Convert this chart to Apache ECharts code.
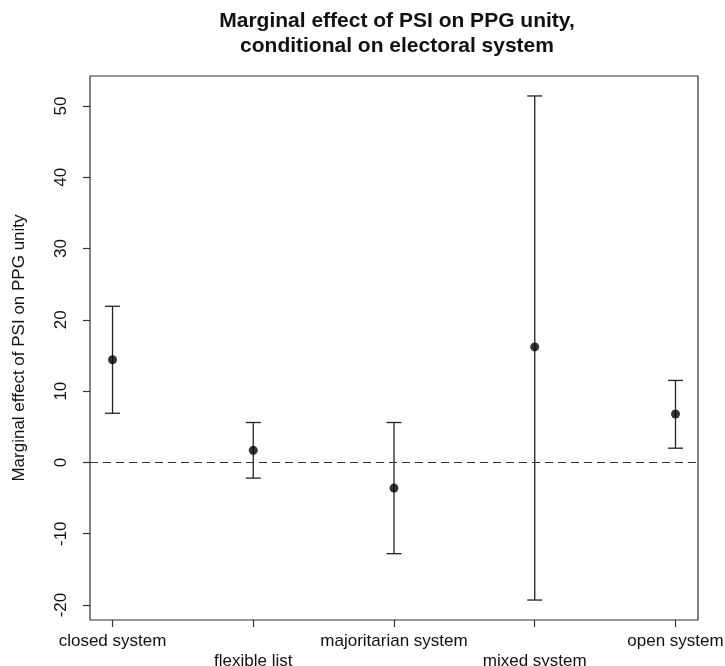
<!DOCTYPE html>
<html>
<head>
<meta charset="utf-8">
<script src="https://cdn.jsdelivr.net/npm/echarts@6/dist/echarts.min.js"></script>
<style>
  html, body { margin: 0; padding: 0; background: #fff; }
  #main { width: 725px; height: 666px; }
</style>
</head>
<body>
<div id="main"></div>
<script>
// electoral systems and the marginal effect estimates with their CI bounds
const systems = ["closed system", "flexible list", "majoritarian system", "mixed system", "open system"];
const estimate = [14.4, 1.7, -3.6, 16.2, 6.8];
const lower = [6.9, -2.2, -12.8, -19.3, 2.0];
const upper = [21.9, 5.6, 5.6, 51.4, 11.5];
const xTicks = [1, 2, 3, 4, 5];
const yTicks = [-20, -10, 0, 10, 20, 30, 40, 50];

const font = "Liberation Sans, Arial, sans-serif";
const ink = "#222";

const barData = systems.map((s, i) => [i + 1, lower[i], upper[i]]);
const pointData = systems.map((s, i) => [i + 1, estimate[i]]);

const myChart = echarts.init(document.getElementById("main"));
const option = {
  backgroundColor: "#fff",
  animation: false,
  title: {
    text: "Marginal effect of PSI on PPG unity,\nconditional on electoral system",
    left: 392,
    textAlign: "center",
    top: 4,
    textStyle: {
      fontFamily: font,
      fontSize: 21,
      fontWeight: "bold",
      color: "#111",
      lineHeight: 25
    }
  },
  grid: {
    left: 90,
    right: 27,
    top: 76,
    bottom: 46,
    outerBoundsMode: "none",
    containLabel: false,
    show: true,
    borderColor: "#333",
    borderWidth: 1.2,
    backgroundColor: "transparent"
  },
  xAxis: {
    type: "value",
    min: 0.84,
    max: 5.16,
    splitLine: { show: false },
    axisLine: { show: false, onZero: false },
    axisTick: {
      show: true,
      length: 7,
      customValues: xTicks,
      lineStyle: { color: "#333", width: 1.2 }
    },
    axisLabel: {
      customValues: xTicks,
      margin: 11,
      fontFamily: font,
      fontSize: 17,
      color: "#111",
      lineHeight: 20,
      formatter: function (v) {
        const i = Math.round(v) - 1;
        return i % 2 === 1 ? "\n" + systems[i] : systems[i];
      }
    }
  },
  yAxis: {
    type: "value",
    min: -22.1,
    max: 54.2,
    name: "Marginal effect of PSI on PPG unity",
    nameLocation: "middle",
    nameRotate: 90,
    nameGap: 62,
    nameTextStyle: { fontFamily: font, fontSize: 17, color: "#111" },
    splitLine: { show: false },
    axisLine: { show: false, onZero: false },
    axisTick: {
      show: true,
      length: 7,
      customValues: yTicks,
      lineStyle: { color: "#333", width: 1.2 }
    },
    axisLabel: {
      customValues: yTicks,
      rotate: 90,
      margin: 20,
      fontFamily: font,
      fontSize: 17,
      color: "#111"
    }
  },
  series: [
    {
      type: "custom",
      data: barData,
      renderItem: function (params, api) {
        const x = api.value(0);
        const lo = api.coord([x, api.value(1)]);
        const hi = api.coord([x, api.value(2)]);
        const hw = 7.5;
        const style = { stroke: ink, lineWidth: 1.3 };
        return {
          type: "group",
          children: [
            { type: "line", shape: { x1: lo[0], y1: lo[1], x2: hi[0], y2: hi[1] }, style: style },
            { type: "line", shape: { x1: lo[0] - hw, y1: lo[1], x2: lo[0] + hw, y2: lo[1] }, style: style },
            { type: "line", shape: { x1: hi[0] - hw, y1: hi[1], x2: hi[0] + hw, y2: hi[1] }, style: style }
          ]
        };
      },
      markLine: {
        silent: true,
        symbol: "none",
        label: { show: false },
        lineStyle: { color: "#333", type: [8, 5], width: 1.2 },
        data: [{ yAxis: 0 }]
      },
      z: 2
    },
    {
      type: "scatter",
      data: pointData,
      symbol: "circle",
      symbolSize: 9,
      itemStyle: { color: "#000" },
      z: 3
    }
  ]
};
myChart.setOption(option);
</script>
</body>
</html>
